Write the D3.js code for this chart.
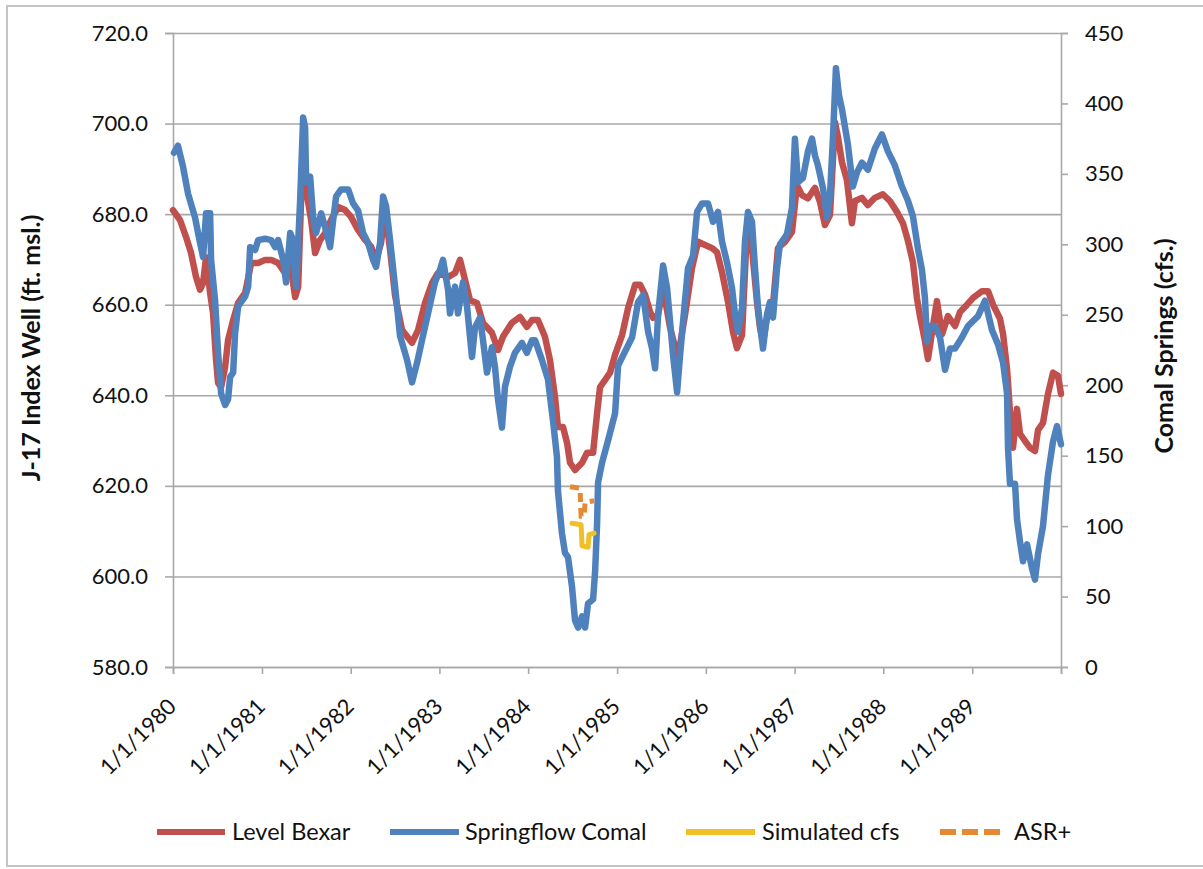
<!DOCTYPE html>
<html>
<head>
<meta charset="utf-8">
<script src="https://cdn.jsdelivr.net/npm/d3@7"></script>
<style>
  html, body { margin: 0; padding: 0; background: #fff; }
  svg { display: block; }
  text { font-family: Lato, "Open Sans", sans-serif; fill: #111; }
</style>
</head>
<body>
<svg id="chart" width="1203" height="869"></svg>
<script>
// ---------------- DATA ----------------
// Dates as decimal years
const levelDates = [1980.000,1980.079,1980.146,1980.203,1980.259,1980.304,1980.338,1980.372,1980.417,1980.450,1980.484,1980.507,1980.541,1980.586,1980.619,1980.676,1980.732,1980.811,1980.878,1980.957,1981.036,1981.104,1981.182,1981.261,1981.318,1981.374,1981.408,1981.441,1981.464,1981.498,1981.554,1981.599,1981.655,1981.712,1981.779,1981.858,1981.937,1982.004,1982.083,1982.162,1982.230,1982.286,1982.342,1982.387,1982.444,1982.500,1982.579,1982.691,1982.759,1982.838,1982.917,1982.984,1983.097,1983.176,1983.232,1983.288,1983.345,1983.423,1983.491,1983.592,1983.660,1983.716,1983.817,1983.908,1983.986,1984.043,1984.110,1984.189,1984.245,1984.302,1984.335,1984.392,1984.437,1984.471,1984.527,1984.606,1984.662,1984.730,1984.775,1984.808,1984.865,1984.921,1984.977,1985.056,1985.124,1985.203,1985.259,1985.315,1985.372,1985.405,1985.462,1985.518,1985.597,1985.676,1985.709,1985.766,1985.844,1985.912,1985.991,1986.070,1986.126,1986.182,1986.250,1986.306,1986.351,1986.408,1986.464,1986.520,1986.576,1986.610,1986.644,1986.700,1986.757,1986.813,1986.892,1986.971,1987.027,1987.083,1987.151,1987.230,1987.286,1987.342,1987.399,1987.455,1987.489,1987.534,1987.590,1987.646,1987.680,1987.759,1987.826,1987.905,1987.995,1988.074,1988.153,1988.221,1988.277,1988.333,1988.378,1988.412,1988.468,1988.502,1988.558,1988.603,1988.660,1988.727,1988.806,1988.863,1988.941,1989.009,1989.110,1989.178,1989.234,1989.313,1989.347,1989.392,1989.425,1989.459,1989.504,1989.538,1989.594,1989.651,1989.707,1989.741,1989.797,1989.853,1989.910,1989.966,1990.000];
const levelValues = [680.9,678.7,675.0,671.4,666.1,663.3,664.8,670.5,662.6,658.2,647.8,642.7,641.8,646.3,652.2,656.6,660.4,662.6,669.2,669.2,669.9,669.9,669.2,667.0,669.2,661.7,663.9,683.1,694.2,685.3,678.7,671.4,674.3,675.8,678.7,681.6,680.9,679.4,676.5,674.3,672.8,669.9,673.6,680.9,672.1,662.0,654.4,651.6,654.4,660.4,664.8,667.0,666.1,667.0,669.9,665.5,661.0,660.4,656.0,653.8,650.0,652.9,656.0,657.3,655.1,656.6,656.6,652.9,647.8,639.6,633.0,633.0,629.5,625.1,623.5,625.1,627.3,627.3,636.1,641.8,643.4,645.0,649.0,653.3,659.3,664.4,664.4,662.2,658.4,657.1,657.8,663.7,654.9,648.9,651.1,657.8,668.1,673.9,673.2,672.5,671.6,667.2,660.6,654.0,650.4,653.3,677.0,672.5,660.6,654.9,651.8,658.4,660.0,672.5,673.9,676.1,686.4,684.2,683.5,685.8,682.7,677.6,679.8,700.3,697.0,691.5,687.5,678.0,682.9,683.6,682.0,683.6,684.4,682.9,680.5,678.0,674.1,669.4,661.5,657.5,652.0,648.0,655.3,660.8,653.5,657.5,655.3,658.4,660.0,661.5,663.0,663.0,660.0,656.9,653.5,645.8,636.3,628.4,637.0,631.5,629.9,628.4,627.7,632.3,633.9,640.3,645.0,644.3,640.3];

const springDates = [1980.011,1980.056,1980.113,1980.169,1980.248,1980.304,1980.338,1980.372,1980.417,1980.428,1980.473,1980.507,1980.541,1980.586,1980.619,1980.642,1980.676,1980.698,1980.732,1980.811,1980.845,1980.867,1980.923,1980.957,1981.036,1981.104,1981.149,1981.182,1981.239,1981.272,1981.318,1981.351,1981.385,1981.430,1981.464,1981.486,1981.498,1981.543,1981.577,1981.610,1981.667,1981.712,1981.768,1981.802,1981.836,1981.892,1981.971,1982.027,1982.083,1982.140,1982.196,1982.252,1982.286,1982.331,1982.365,1982.399,1982.444,1982.500,1982.556,1982.635,1982.691,1982.748,1982.804,1982.872,1982.950,1983.007,1983.040,1983.097,1983.119,1983.176,1983.209,1983.266,1983.311,1983.367,1983.401,1983.457,1983.491,1983.536,1983.592,1983.626,1983.660,1983.705,1983.739,1983.795,1983.851,1983.930,1983.986,1984.043,1984.077,1984.155,1984.223,1984.279,1984.324,1984.335,1984.380,1984.414,1984.448,1984.493,1984.527,1984.561,1984.606,1984.640,1984.673,1984.730,1984.752,1984.775,1984.786,1984.831,1984.899,1984.977,1985.011,1985.090,1985.169,1985.236,1985.293,1985.349,1985.394,1985.428,1985.462,1985.518,1985.563,1985.597,1985.631,1985.676,1985.709,1985.743,1985.799,1985.856,1985.901,1985.957,1986.025,1986.081,1986.137,1986.182,1986.239,1986.295,1986.329,1986.362,1986.408,1986.441,1986.475,1986.520,1986.554,1986.588,1986.644,1986.689,1986.723,1986.757,1986.802,1986.835,1986.914,1986.971,1987.004,1987.038,1987.094,1987.151,1987.196,1987.230,1987.263,1987.320,1987.365,1987.399,1987.432,1987.466,1987.500,1987.534,1987.601,1987.657,1987.703,1987.759,1987.826,1987.905,1987.984,1988.052,1988.130,1988.209,1988.277,1988.333,1988.389,1988.434,1988.468,1988.491,1988.525,1988.581,1988.637,1988.694,1988.750,1988.806,1988.885,1988.952,1989.065,1989.144,1989.223,1989.290,1989.347,1989.392,1989.403,1989.425,1989.482,1989.504,1989.538,1989.572,1989.617,1989.673,1989.707,1989.741,1989.797,1989.853,1989.910,1989.955,1990.000];
const springValues = [365,370,355,336,319,301,291,322,322,289,260,223,194,186,190,206,209,237,256,263,270,298,296,303,304,303,298,303,289,273,308,303,270,331,390,383,344,348,319,308,322,312,298,317,334,339,339,329,324,308,301,289,284,301,334,327,303,270,235,218,202,216,232,251,273,282,289,268,251,270,251,273,256,220,241,248,232,209,227,213,190,170,199,213,223,230,223,232,232,218,204,175,149,125,95,81,78,57,33,28,36,28,45,48,67,102,131,145,161,180,214,224,234,259,264,238,226,212,250,285,269,245,221,195,221,245,283,292,323,329,329,316,323,302,287,269,250,238,255,302,323,316,283,255,226,250,259,248,283,300,307,326,375,344,347,366,375,363,356,340,319,335,375,425,406,396,371,341,351,358,353,368,378,366,356,341,331,320,297,282,262,231,242,242,234,211,226,226,234,242,249,260,239,229,216,194,155,130,130,105,89,75,87,70,62,80,100,136,160,171,158];

const simDates  = [1984.493,1984.595,1984.606,1984.673,1984.685,1984.741];
const simValues = [102,101,86,85,94,95];

const asrDates  = [1984.471,1984.583,1984.595,1984.628,1984.640,1984.741];
const asrValues = [128,127,107,107,117,118];

const leftTicks  = [580,600,620,640,660,680,700,720];
const rightTicks = [0,50,100,150,200,250,300,350,400,450];
const yearTicks  = [1980,1981,1982,1983,1984,1985,1986,1987,1988,1989];

const seriesNames = ["Level Bexar","Springflow Comal","Simulated cfs","ASR+"];
const seriesColors = ["#c0504d","#4f81bd","#f0c028","#e48a32"];

// ---------------- HELPERS ----------------
function decYear(t){
  const y = Math.floor(t);
  const a = Date.UTC(y,0,1), b = Date.UTC(y+1,0,1);
  return new Date(a + (t - y)*(b - a));
}
const zip = (ds, vs) => ds.map((d,i) => ({date: decYear(d), value: vs[i]}));

// ---------------- LAYOUT ----------------
const svg = d3.select("#chart");
const L = 173, R = 1061, T = 33, B = 667;

const x  = d3.scaleUtc().domain([decYear(1980), decYear(1990)]).range([L, R]);
const yL = d3.scaleLinear().domain([580, 720]).range([B, T]);
const yR = d3.scaleLinear().domain([0, 450]).range([B, T]);

// outer chart frame
svg.append("rect").attr("x",7).attr("y",6).attr("width",1210).attr("height",860)
  .attr("fill","none").attr("stroke","#c4c4c4").attr("stroke-width",2);

const gridColor = "#a8a8a8";

// gridlines (with outward tick marks on the left)
svg.append("g").attr("transform",`translate(${L},0)`)
  .call(d3.axisLeft(yL).tickValues(leftTicks).tickSize(-(R-L)).tickFormat(""))
  .call(g => g.select(".domain").remove())
  .call(g => g.selectAll("line").attr("stroke",gridColor).attr("stroke-width",1.6));

// left axis
svg.append("g").attr("transform",`translate(${L},0)`)
  .call(d3.axisLeft(yL).tickValues(leftTicks).tickFormat(d3.format(".1f")).tickSize(8).tickPadding(17))
  .call(g => g.select(".domain").attr("stroke",gridColor).attr("stroke-width",1.6))
  .call(g => g.selectAll("line").attr("stroke",gridColor).attr("stroke-width",1.6))
  .call(g => g.selectAll("text").attr("font-size",22).attr("font-family","Lato").attr("fill","#111"));

// right axis
svg.append("g").attr("transform",`translate(${R},0)`)
  .call(d3.axisRight(yR).tickValues(rightTicks).tickSize(7).tickPadding(17))
  .call(g => g.select(".domain").attr("stroke",gridColor).attr("stroke-width",1.6))
  .call(g => g.selectAll("line").attr("stroke",gridColor).attr("stroke-width",1.6))
  .call(g => g.selectAll("text").attr("font-size",22).attr("font-family","Lato").attr("fill","#111"));

// bottom axis
svg.append("g").attr("transform",`translate(0,${B})`)
  .call(d3.axisBottom(x).tickValues(yearTicks.concat([1990]).map(decYear)).tickSize(7)
        .tickFormat(d => d.getUTCFullYear() === 1990 ? "" : `1/1/${d.getUTCFullYear()}`))
  .call(g => g.select(".domain").attr("stroke",gridColor).attr("stroke-width",1.6))
  .call(g => g.selectAll("line").attr("stroke",gridColor).attr("stroke-width",1.6))
  .call(g => g.selectAll("text")
      .attr("font-size",22).attr("font-family","Lato").attr("fill","#111")
      .attr("text-anchor","end").attr("x",4).attr("y",41).attr("dy",0)
      .attr("transform","rotate(-45 4 41)"));

// axis titles
svg.append("text").attr("transform","translate(40,348) rotate(-90)")
  .attr("text-anchor","middle").attr("font-size",25).attr("font-weight","bold")
  .text("J-17 Index Well (ft. msl.)");
svg.append("text").attr("transform","translate(1173,346) rotate(-90)")
  .attr("text-anchor","middle").attr("font-size",25).attr("font-weight","bold")
  .text("Comal Springs (cfs.)");

// ---------------- SERIES ----------------
const lineL = d3.line().x(d => x(d.date)).y(d => yL(d.value));
const lineR = d3.line().x(d => x(d.date)).y(d => yR(d.value));

svg.append("path").datum(zip(levelDates, levelValues)).attr("d", lineL)
  .attr("fill","none").attr("stroke",seriesColors[0]).attr("stroke-width",6.5)
  .attr("stroke-linejoin","round").attr("stroke-linecap","round");
svg.append("path").datum(zip(springDates, springValues)).attr("d", lineR)
  .attr("fill","none").attr("stroke",seriesColors[1]).attr("stroke-width",6.5)
  .attr("stroke-linejoin","round").attr("stroke-linecap","round");
svg.append("path").datum(zip(simDates, simValues)).attr("d", lineR)
  .attr("fill","none").attr("stroke",seriesColors[2]).attr("stroke-width",5)
  .attr("stroke-linejoin","round").attr("stroke-linecap","round");
svg.append("path").datum(zip(asrDates, asrValues)).attr("d", lineR)
  .attr("fill","none").attr("stroke",seriesColors[3]).attr("stroke-width",5)
  .attr("stroke-dasharray","9,6");

// ---------------- LEGEND ----------------
const legendItems = [
  {x1:157, x2:225, tx:232, dash:null},
  {x1:390, x2:459, tx:465, dash:null},
  {x1:686, x2:755, tx:762, dash:null},
  {x1:940, x2:1002, tx:1014, dash:"16,6"}
];
const lg = svg.append("g");
legendItems.forEach((it,i) => {
  lg.append("line").attr("x1",it.x1).attr("x2",it.x2).attr("y1",832).attr("y2",832)
    .attr("stroke",seriesColors[i]).attr("stroke-width",6)
    .attr("stroke-dasharray", it.dash);
  lg.append("text").attr("x",it.tx).attr("y",840).attr("font-size",23.5)
    .text(seriesNames[i]);
});
</script>
</body>
</html>
